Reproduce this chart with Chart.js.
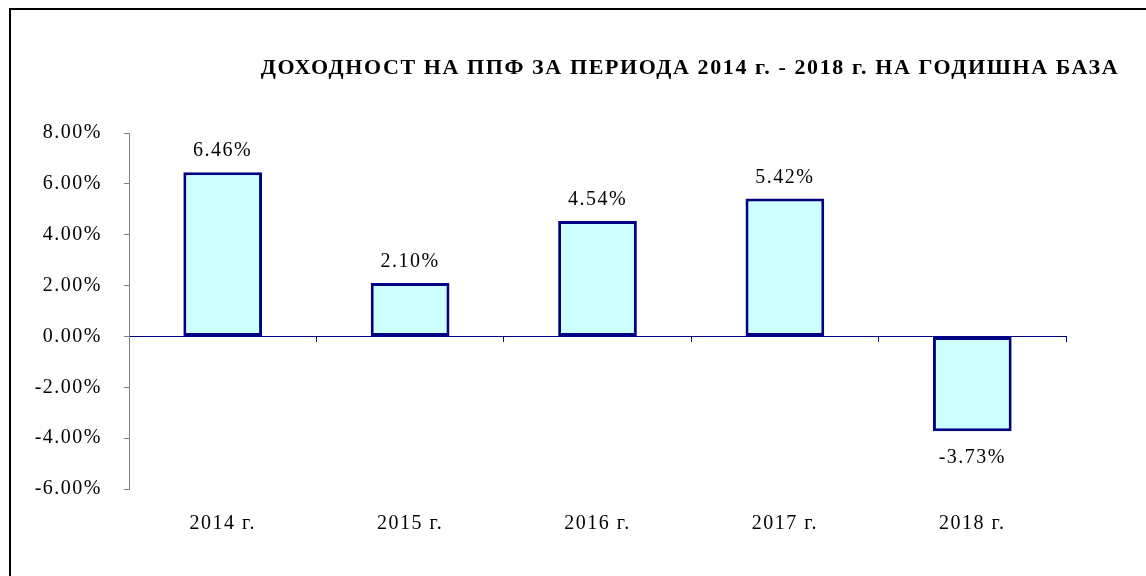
<!DOCTYPE html>
<html>
<head>
<meta charset="utf-8">
<script src="https://cdn.jsdelivr.net/npm/chart.js@4"></script>
<style>
    html, body { margin: 0; padding: 0; background: #ffffff; }
    #wrap { position: relative; width: 1146px; height: 576px; }
    #frame {
        position: absolute; left: 9px; top: 8px; right: 0; bottom: 0;
        border-top: 2px solid #000000; border-left: 2px solid #000000;
        pointer-events: none;
    }
</style>
</head>
<body>
<div id="wrap">
    <canvas id="yieldChart" width="1146" height="576"></canvas>
    <div id="frame"></div>
</div>
<script>
// Доходност на ППФ по години
const categories = ['2014 г.', '2015 г.', '2016 г.', '2017 г.', '2018 г.'];
const yieldValues = [6.46, 2.10, 4.54, 5.42, -3.73];
const yTicks = [-6, -4, -2, 0, 2, 4, 6, 8];
const chartTitle = 'ДОХОДНОСТ НА ППФ ЗА ПЕРИОДА 2014 г. - 2018 г. НА ГОДИШНА БАЗА';

const serif = '"Liberation Serif", "Times New Roman", serif';
const navy = '#000080';
const spacing = '1.5px';

// letter spacing for the wide Excel-like text
const spacingPlugin = {
    id: 'spacing',
    beforeDraw(chart) {
        chart.ctx.letterSpacing = spacing;
    }
};

// title and value labels
const labelsPlugin = {
    id: 'labels',
    afterDatasetsDraw(chart) {
        const ctx = chart.ctx;
        const meta = chart.getDatasetMeta(0);
        ctx.save();
        ctx.letterSpacing = spacing;
        ctx.font = '20px ' + serif;
        ctx.fillStyle = '#000000';
        ctx.textAlign = 'center';
        ctx.textBaseline = 'middle';
        meta.data.forEach((bar, i) => {
            const v = yieldValues[i];
            const y = v >= 0 ? bar.y - 21 : bar.y + 26;
            ctx.fillText(v.toFixed(2) + '%', bar.x, y);
        });
        ctx.restore();
    },
    afterDraw(chart) {
        const ctx = chart.ctx;
        ctx.save();
        ctx.letterSpacing = '1.6px';
        ctx.font = 'bold 22px ' + serif;
        ctx.fillStyle = '#000000';
        ctx.textAlign = 'center';
        ctx.textBaseline = 'middle';
        ctx.fillText(chartTitle, 690, 68);
        ctx.restore();
    }
};

const ctx = document.getElementById('yieldChart').getContext('2d');
new Chart(ctx, {
    type: 'bar',
    data: {
        labels: categories,
        datasets: [{
            data: yieldValues,
            backgroundColor: '#CCFFFF',
            borderColor: navy,
            borderWidth: 3,
            borderSkipped: false,
            categoryPercentage: 1,
            barPercentage: 0.42
        }]
    },
    options: {
        responsive: false,
        animation: false,
        devicePixelRatio: 1,
        layout: { padding: { left: 0, right: 80, top: 133, bottom: 0 } },
        plugins: {
            legend: { display: false },
            title: { display: false },
            tooltip: { enabled: false }
        },
        scales: {
            x: {
                type: 'category',
                grid: { display: false, drawTicks: false },
                border: { display: false },
                ticks: {
                    color: '#000000',
                    font: { family: serif, size: 20 },
                    padding: 23,
                    maxRotation: 0
                },
                afterFit(scale) { scale.height = 87; }
            },
            x0: {
                type: 'category',
                position: { y: 0 },
                grid: {
                    offset: true,
                    drawOnChartArea: false,
                    tickLength: 5,
                    color: navy,
                    lineWidth: 1
                },
                border: { color: navy, width: 1 },
                ticks: { display: false }
            },
            y: {
                min: -6,
                max: 8,
                afterBuildTicks(scale) {
                    scale.ticks = yTicks.map(v => ({ value: v }));
                },
                grid: {
                    drawOnChartArea: false,
                    tickLength: 5,
                    color: '#808080'
                },
                border: { color: '#808080', width: 1 },
                ticks: {
                    color: '#000000',
                    font: { family: serif, size: 20 },
                    padding: 22,
                    callback: v => v.toFixed(2) + '%'
                },
                afterFit(scale) { scale.width = 129; }
            }
        }
    },
    plugins: [spacingPlugin, labelsPlugin]
});
</script>
</body>
</html>
